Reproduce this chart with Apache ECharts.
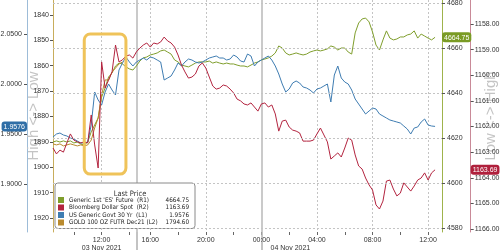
<!DOCTYPE html>
<html><head><meta charset="utf-8">
<script src="https://cdn.jsdelivr.net/npm/echarts@6/dist/echarts.min.js"></script>
<style>html,body{margin:0;padding:0;background:#fff}#c{width:500px;height:250px}</style>
</head><body><div id="c"></div>
<script>
// ---- time axis (15-minute slots, trading time with a session gap) ----
// [day, first slot minute-of-day, last slot minute-of-day]
const sessions = [['11-03', 510, 855], ['11-03', 900, 1425], ['11-04', 0, 780]];
const xLabelTimes = ['11-03 12:00', '11-03 16:00', '11-03 20:00', '11-04 00:00', '11-04 04:00', '11-04 08:00', '11-04 12:00'];
const dateLabelTimes = ['11-03 12:00', '11-04 00:00'];
const dateLabels = ['03 Nov 2021', '04 Nov 2021'];
const sessionBreaks = ['11-03 15:00', '11-04 00:00'];

// ---- series names / last prices ----
const seriesNames = ["Generic 1st 'ES' Future  (R1)", "Bloomberg Dollar Spot  (R2)", "US Generic Govt 30 Yr  (L1)", "GOLD 100 OZ FUTR Dec21 (L2)"];
const lastPrices = ['4664.75', '1163.69', '1.9576', '1794.60'];

// ---- axis ticks and ranges ----
const yieldTicks = [1.90, 1.95, 2.00, 2.05];
const goldTicks = [1840, 1850, 1860, 1870, 1880, 1890, 1900, 1910, 1920];
const esTicks = [4580, 4600, 4620, 4640, 4660, 4680];
const dollarTicks = [1158, 1159, 1160, 1161, 1162, 1163, 1164, 1165, 1166];
const yieldRange = [1.852, 2.084];
const goldRange = [1834.09, 1925.52];
const esRange = [4578.22, 4681.33];
const dollarRange = [1157.063, 1166.117];

// ---- values per 15-min slot ----
const esData = [4618.2,4618.7,4618.2,4618.7,4618.2,4618.7,4617.8,4618.2,4617.3,4616.9,
4618.2,4622.7,4625.8,4628.9,4638.2,4642.2,4647.1,4648.9,4652.0,4653.3,
4652.9,4651.6,4650.7,4650.2,4652.0,4654.2,4655.6,4656.0,4656.9,4657.3,
4657.8,4658.7,4659.1,4658.2,4657.3,4654.7,4653.8,4652.4,4652.0,4651.6,
4652.4,4653.3,4653.8,4653.8,4653.8,4654.2,4653.3,4653.8,4653.3,4652.9,
4653.3,4652.9,4652.9,4652.4,4652.0,4652.0,4651.6,4652.4,4653.3,4653.8,
4654.7,4655.1,4655.6,4656.4,4657.8,4660.9,4660.0,4657.8,4656.9,4657.3,
4657.8,4657.3,4656.9,4657.3,4658.2,4658.7,4659.1,4658.7,4659.1,4659.6,
4660.9,4660.4,4659.1,4660.0,4660.0,4658.2,4657.3,4666.7,4671.1,4672.9,
4673.3,4671.6,4667.1,4661.3,4659.1,4663.6,4667.6,4664.4,4663.6,4664.0,
4664.9,4664.9,4665.8,4666.2,4667.6,4664.4,4666.2,4665.3,4664.4,4663.6,4664.75];

const dollarData = [1162.84,1163.07,1162.92,1163.00,1162.64,1162.29,1162.53,1162.60,1162.64,1162.60,
1162.64,1161.55,1162.72,1163.62,1159.48,1160.50,1160.19,1159.87,1158.82,1159.48,
1159.40,1159.25,1159.21,1159.33,1159.09,1158.94,1158.82,1158.74,1158.90,1158.74,
1158.78,1158.70,1158.51,1158.66,1158.74,1158.90,1159.21,1159.60,1159.87,1160.11,
1160.07,1159.95,1159.64,1159.52,1159.72,1160.07,1160.42,1160.54,1160.50,1160.38,
1160.42,1160.54,1160.69,1160.93,1161.00,1161.12,1161.16,1161.08,1161.24,1161.40,
1161.12,1161.08,1161.24,1161.16,1161.51,1162.18,1161.79,1161.75,1162.02,1162.14,
1162.18,1162.25,1162.57,1162.57,1162.57,1162.53,1162.29,1162.06,1162.33,1162.60,
1163.27,1163.15,1163.03,1163.19,1162.84,1162.45,1162.53,1163.11,1163.54,1163.66,
1164.01,1164.28,1164.48,1165.06,1165.22,1164.91,1164.13,1164.09,1164.44,1164.71,
1164.60,1164.20,1164.36,1164.52,1164.32,1164.09,1164.01,1163.81,1164.09,1163.81,1163.69];

const yieldData = [1.947,1.950,1.951,1.949,1.948,1.946,1.945,1.943,1.941,1.941,
1.942,1.959,1.992,1.984,1.979,1.992,2.000,1.994,1.989,2.014,
2.021,2.027,2.022,2.018,2.022,2.024,2.026,2.024,2.027,2.026,
2.024,2.022,2.004,2.006,2.008,2.014,2.021,2.018,2.022,2.025,
2.024,2.022,2.021,2.022,2.024,2.026,2.027,2.028,2.026,2.026,
2.024,2.025,2.029,2.027,2.023,2.022,2.030,2.028,2.018,2.022,
2.024,2.026,2.028,2.024,2.018,2.010,2.000,1.992,1.995,2.001,
2.003,2.001,1.997,1.996,1.994,1.991,1.995,1.996,1.998,2.000,
1.982,2.009,2.018,2.006,2.002,2.000,1.994,1.985,1.980,1.975,
1.970,1.973,1.976,1.975,1.970,1.968,1.966,1.964,1.963,1.962,
1.961,1.958,1.955,1.950,1.956,1.957,1.962,1.965,1.959,1.958,1.9576];

const goldData = [1890.8,1891.2,1890.8,1891.6,1891.2,1890.8,1891.2,1891.6,1891.2,1891.6,
1891.2,1889.3,1884.5,1880.6,1871.5,1865.6,1865.6,1862.5,1860.9,1859.3,1858.5];

// highlighted window (time slots and gold-axis levels)
const highlight = { from: '11-03 10:45', to: '11-03 13:45', top: 1847.5, bottom: 1902.7 };

// ---- build categories ----
function pad(n) { return (n < 10 ? '0' : '') + n; }
const categories = [];
sessions.forEach(([day, a, b]) => {
  for (let m = a; m <= b; m += 15) categories.push(day + ' ' + pad(Math.floor(m / 60)) + ':' + pad(m % 60));
});

const colors = ['#7f9e2c', '#b3243f', '#3f7db2', '#b98a2e'];
const FONT = 'Liberation Sans, Arial, sans-serif';
const axisFont = { fontFamily: FONT, fontSize: 7, color: '#333' };
const smallFont = "'Liberation Sans Narrow', 'DejaVu Sans Condensed', 'Liberation Sans', sans-serif";

function yAxisBase(pos, offset, range, ticks, lineColor, fmt, inverse) {
  return {
    type: 'value', position: pos, offset: offset, min: range[0], max: range[1], inverse: !!inverse,
    axisLine: { show: true, lineStyle: { color: lineColor, width: 1 } },
    axisTick: { show: true, length: 3, customValues: ticks, lineStyle: { color: '#555' } },
    axisLabel: Object.assign({ show: true, customValues: ticks, margin: 5, formatter: fmt }, axisFont),
    splitLine: { show: false }
  };
}
function pointer(value, bg, fmt) {
  return {
    show: true, type: 'line', value: value, status: 'show', snap: false, triggerTooltip: false,
    lineStyle: { opacity: 0 },
    label: { show: true, backgroundColor: bg, color: '#fff', fontSize: 7, fontFamily: FONT,
      padding: [2, 2, 1, 2], margin: 0, formatter: p => fmt(p.value) }
  };
}

const yAx0 = yAxisBase('left', 26, yieldRange, yieldTicks, '#9dbcd8', v => v.toFixed(4));
yAx0.axisPointer = pointer(yieldData[yieldData.length - 1], '#2f6ea6', v => Number(v).toFixed(4));
const yAx1 = yAxisBase('left', 0, goldRange, goldTicks, '#c8ad5c', v => String(v), true);
yAx1.axisLabel.margin = 4;
yAx1.name = 'High <-> Low'; yAx1.nameLocation = 'middle'; yAx1.nameGap = 12; yAx1.nameMoveOverlap = false;
yAx1.nameTextStyle = { color: '#c4c4c4', fontSize: 15, fontFamily: FONT };
const yAx2 = yAxisBase('right', 0, esRange, esTicks, '#9fb34c', v => String(v));
yAx2.axisPointer = pointer(esData[esData.length - 1], '#7a9b25', v => Number(v).toFixed(2));
const yAx3 = yAxisBase('right', 28.7, dollarRange, dollarTicks, '#c98a98', v => v.toFixed(2), true);
yAx3.axisLabel.margin = 4;
yAx3.name = 'Low <-> High'; yAx3.nameLocation = 'middle'; yAx3.nameGap = 13; yAx3.nameMoveOverlap = false;
yAx3.nameTextStyle = { color: '#c4c4c4', fontSize: 15, fontFamily: FONT, padding: [0, 0, 0, 0] };
yAx3.axisPointer = pointer(dollarData[dollarData.length - 1], '#b0203c', v => Number(v).toFixed(2));

const isLabel = (i, v) => xLabelTimes.indexOf(v) >= 0;
const isBreak = (i, v) => sessionBreaks.indexOf(v) >= 0;
const isTwoHour = (i, v) => v.slice(9) === '00' && (parseInt(v.slice(6, 8), 10) % 2 === 0);

const chart = echarts.init(document.getElementById('c'), null, { renderer: 'canvas' });
const option = {
  animation: false,
  backgroundColor: '#fff',
  grid: { left: 53, right: 58, top: 0, bottom: 18, containLabel: false, outerBoundsMode: 'none' },
  title: { text: 'Last Price', left: 125, top: 185, textAlign: 'center',
    textStyle: { fontSize: 7.5, fontWeight: 'normal', color: '#333', fontFamily: smallFont } },
  legend: {
    orient: 'vertical', left: 55, top: 183, padding: [14, 6, 3, 3],
    backgroundColor: '#fff', borderColor: '#8a8a8a', borderWidth: 1, borderRadius: 3,
    itemWidth: 6, itemHeight: 6, itemGap: 1.5, icon: 'rect', selectedMode: false,
    data: seriesNames,
    formatter: name => '{n|' + name + '}{v|' + lastPrices[seriesNames.indexOf(name)] + '}',
    textStyle: { fontSize: 6.3, color: '#222', fontFamily: smallFont, lineHeight: 6,
      rich: { n: { width: 100, fontSize: 6.3, fontFamily: smallFont }, v: { width: 20, align: 'right', fontSize: 6.3, fontFamily: smallFont } } }
  },
  xAxis: [
    {
      type: 'category', data: categories, boundaryGap: false, position: 'bottom',
      axisLine: { show: false },
      axisTick: { show: true, interval: isTwoHour, length: 3, lineStyle: { color: '#666' } },
      axisLabel: Object.assign({ interval: isLabel, margin: 4, lineHeight: 8,
        formatter: v => {
          const i = dateLabelTimes.indexOf(v);
          const t = v.slice(6);
          if (i < 0) return t;
          return t + '\n{' + (i === 0 ? 'd' : 'e') + '|' + dateLabels[i] + '}';
        },
        rich: { d: { fontSize: 7, color: '#333', lineHeight: 8 }, e: { fontSize: 7, color: '#333', lineHeight: 8, padding: [0, 0, 0, 58] } }
      }, axisFont),
      splitLine: { show: true, interval: (i, v) => isLabel(i, v) && !isBreak(i, v), lineStyle: { color: '#c4c4c4', type: [2, 2], width: 1 } }
    },
    {
      type: 'category', data: categories, boundaryGap: false, position: 'bottom',
      axisLine: { show: false }, axisLabel: { show: false },
      axisTick: { show: true, interval: isBreak, length: 18, lineStyle: { color: '#b0b0b0', width: 1.5 } },
      splitLine: { show: true, interval: isBreak, lineStyle: { color: '#b8b8b8', type: 'solid', width: 1.5 } }
    }
  ],
  yAxis: [yAx0, yAx1, yAx2, yAx3],
  series: [
    { name: seriesNames[0], type: 'line', xAxisIndex: 0, yAxisIndex: 2, data: esData, showSymbol: false, color: colors[0], lineStyle: { width: 1 }, z: 3,
      markLine: { silent: true, symbol: 'none', label: { show: false }, lineStyle: { color: '#c4c4c4', type: [2, 2], width: 1 },
        data: esTicks.map(v => ({ yAxis: v })) } },
    { name: seriesNames[1], type: 'line', xAxisIndex: 0, yAxisIndex: 3, data: dollarData, showSymbol: false, color: colors[1], lineStyle: { width: 1 }, z: 4 },
    { name: seriesNames[2], type: 'line', xAxisIndex: 0, yAxisIndex: 0, data: yieldData, showSymbol: false, color: colors[2], lineStyle: { width: 1 }, z: 3 },
    { name: seriesNames[3], type: 'line', xAxisIndex: 0, yAxisIndex: 1, data: goldData, showSymbol: false, color: colors[3], lineStyle: { width: 1 }, z: 3 }
  ]
};
chart.setOption(option);

const p1 = chart.convertToPixel({ xAxisIndex: 0, yAxisIndex: 1 }, [highlight.from, highlight.top]);
const p2 = chart.convertToPixel({ xAxisIndex: 0, yAxisIndex: 1 }, [highlight.to, highlight.bottom]);
chart.setOption({
  graphic: [{
    type: 'rect', z: 50, silent: true,
    shape: { x: p1[0], y: p1[1], width: p2[0] - p1[0], height: p2[1] - p1[1], r: 6 },
    style: { fill: 'rgba(0,0,0,0)', stroke: '#efc35a', lineWidth: 3 }
  }]
});
</script>
</body></html>
